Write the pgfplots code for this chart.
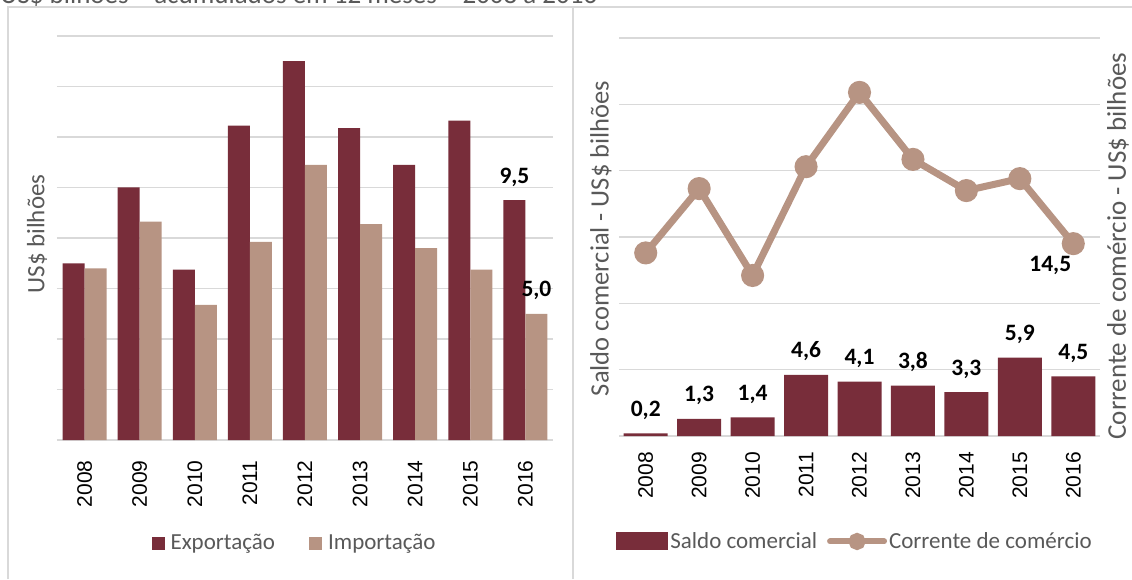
\documentclass[border=0pt]{standalone}
\usepackage{pgfplots}
\pgfplotsset{compat=1.18}
\usepackage{fontspec}
\setmainfont{Carlito}
\newfontfamily\arialf{Liberation Sans}

\definecolor{escuro}{HTML}{782D3A}
\definecolor{claro}{HTML}{B79483}
\definecolor{grade}{HTML}{D9D9D9}
\definecolor{texto}{HTML}{595959}

% comercio exterior, US$ bilhoes
\pgfplotstableread{
x exp imp
0 7.00 6.80
1 10.00 8.65
2 6.75 5.35
3 12.45 7.85
4 15.00 10.90
5 12.35 8.55
6 10.90 7.60
7 12.65 6.75
8 9.50 5.00
}\fluxos

\pgfplotstableread{
x saldo lab
0 0.2 0,2
1 1.3 1,3
2 1.4 1,4
3 4.6 4,6
4 4.1 4,1
5 3.8 3,8
6 3.3 3,3
7 5.9 5,9
8 4.5 4,5
}\saldo

\pgfplotstableread{
x corr
0 13.80
1 18.65
2 12.10
3 20.30
4 25.90
5 20.85
6 18.50
7 19.40
8 14.50
}\corrente

\tikzset{rotulo/.style={font=\bfseries\fontsize{23.5}{23.5}\selectfont, text=black}}

\pgfplotsset{
  painel/.style={
    scale only axis,
    anchor=south west,
    xmin=-0.5, xmax=8.5,
    xtick=data,
    xticklabels={2008,2009,2010,2011,2012,2013,2014,2015,2016},
    xticklabel style={font=\arialf\fontsize{21}{21}\selectfont, rotate=90, anchor=east, inner sep=0pt, xshift=-16pt, text=black},
    yticklabels={},
    axis line style={draw=none},
    tick style={draw=none},
    ymajorgrids,
    major grid style={grade, line width=1.4pt},
    clip=false,
    legend style={draw=none, fill=none, inner sep=0pt,
      font=\fontsize{23}{23}\selectfont, text=texto,
      nodes={inner sep=2pt},
      /tikz/every odd column/.append style={column sep=4pt}},
    legend cell align=left,
  },
  legsaldo/.style={legend image code/.code={\fill[escuro] (0pt,-9pt) rectangle (52pt,9pt);}},
  legcorr/.style={legend image code/.code={
    \draw[claro, line width=6pt, line cap=round] (0pt,0pt) -- (54pt,0pt);
    \fill[claro] (27pt,0pt) circle (5pt);}},
}

\begin{document}
\begin{tikzpicture}
\begin{scope}
  \clip (0pt,0pt) rectangle (1132pt,579pt);
  \node[anchor=base west, inner sep=0pt, text=texto, font=\fontsize{27}{27}\selectfont]
    at (0pt,575.5pt) {US\$ bilhões – acumulados em 12 meses – 2008 a 2016};
\end{scope}

\draw[grade, line width=1.5pt] (8pt,0pt) -- (8pt,572pt) -- (1132pt,572pt);
\draw[grade, line width=1.5pt] (573pt,0pt) -- (573pt,572pt);

\begin{axis}[painel,
  at={(57pt,139pt)}, width=496pt, height=404pt,
  ymin=0, ymax=16, ytick={0,2,...,16},
  ybar=0pt, bar width=22pt,
  legend columns=2,
  legend style={at={(0.479,-0.255)}, anchor=center,
    /tikz/every even column/.append style={column sep=32pt}},
  legend image code/.code={\fill[#1] (0pt,-6.5pt) rectangle (13pt,6.5pt);},
]
\addplot[fill=escuro, draw=none] table[x=x, y=exp] {\fluxos};
\addlegendentry{Exportação}
\addplot[fill=claro, draw=none] table[x=x, y=imp] {\fluxos};
\addlegendentry{Importação}
\node[rotulo, anchor=base] at (axis cs:8,9.5) [xshift=-11pt, yshift=17pt] {9,5};
\node[rotulo, anchor=base] at (axis cs:8,5.0) [xshift=11pt, yshift=17pt] {5,0};
\end{axis}

\begin{axis}[painel,
  at={(619pt,143pt)}, width=481pt, height=398pt,
  ymin=0, ymax=30, ytick={0,5,...,30},
  legend columns=2,
  legend style={at={(0.4906,-0.265)}, anchor=center,
    /tikz/every odd column/.append style={column sep=0pt},
    /tikz/every even column/.append style={column sep=8pt}},
]
\addplot[ybar, bar width=44pt, fill=escuro, draw=none,
  nodes near coords, point meta=explicit symbolic,
  every node near coord/.append style={anchor=base, yshift=17pt, rotulo},
  legsaldo]
  table[x=x, y=saldo, meta=lab] {\saldo};
\addlegendentry{Saldo comercial}
\addplot[claro, line width=7pt, mark=*, mark size=8pt,
  mark options={fill=claro, draw=none}, legcorr]
  table[x=x, y=corr] {\corrente};
\addlegendentry{Corrente de comércio}
\node[rotulo] at (axis cs:8,14.5) [xshift=-23pt, yshift=-22pt] {14,5};
\end{axis}

\node[rotate=90, text=texto, font=\fontsize{25}{25}\selectfont] at (37pt,345pt) {US\$ bilhões};
\node[rotate=90, text=texto, font=\fontsize{26.5}{26.5}\selectfont] at (601pt,340.5pt) {Saldo comercial - US\$ bilhões};
\node[rotate=90, text=texto, font=\fontsize{27}{27}\selectfont, inner sep=0pt] at (1118pt,333pt) {Corrente de comércio - US\$ bilhões};

\pgfresetboundingbox
\path[use as bounding box] (0pt,0pt) rectangle (1132pt,579pt);
\end{tikzpicture}
\end{document}
